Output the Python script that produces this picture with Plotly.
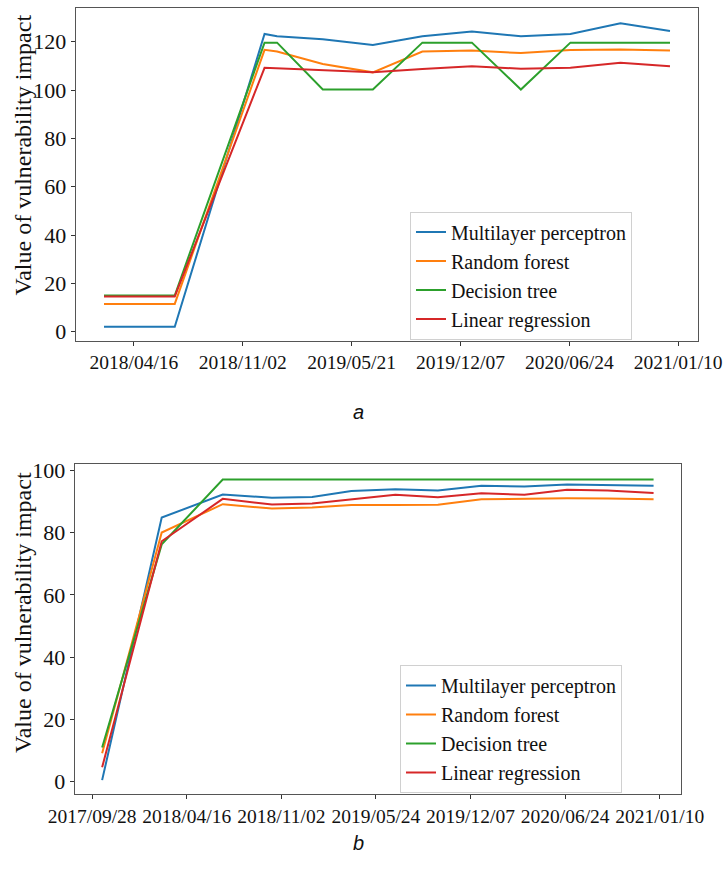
import plotly.graph_objects as go

models = ["Multilayer perceptron", "Random forest", "Decision tree", "Linear regression"]
colors = ["#1f77b4", "#ff7f0e", "#2ca02c", "#d62728"]

# ---- chart a ----
dates_a = ["2018-02-20", "2018-06-30", "2018-12-12", "2019-01-04", "2019-03-29", "2019-06-29",
           "2019-09-28", "2019-12-28", "2020-03-27", "2020-06-26", "2020-09-26", "2020-12-26"]
mlp_a = [2.1, 2.1, 123.2, 122.2, 121.0, 118.6, 122.2, 124.2, 122.2, 123.2, 127.6, 124.4]
rf_a = [11.5, 11.5, 116.6, 115.9, 110.8, 107.3, 115.9, 116.3, 115.3, 116.6, 116.8, 116.3]
dt_a = [15.0, 15.0, 119.6, 119.6, 100.2, 100.2, 119.6, 119.6, 100.2, 119.6, 119.6, 119.6]
lr_a = [14.6, 14.6, 109.2, 109.0, 108.3, 107.3, 108.7, 109.8, 108.8, 109.2, 111.3, 109.8]
tickvals_a = ["2018-04-16", "2018-11-02", "2019-05-21", "2019-12-07", "2020-06-24", "2021-01-10"]
ticktext_a = ["2018/04/16", "2018/11/02", "2019/05/21", "2019/12/07", "2020/06/24", "2021/01/10"]

# ---- chart b ----
dates_b = ["2017-10-19", "2018-02-22", "2018-07-01", "2018-10-13", "2019-01-06", "2019-03-30",
           "2019-07-01", "2019-09-29", "2019-12-30", "2020-03-30", "2020-06-28", "2020-09-22",
           "2020-12-28"]
mlp_b = [0.5, 84.8, 92.2, 91.2, 91.4, 93.3, 93.9, 93.5, 95.0, 94.8, 95.4, 95.3, 95.0]
rf_b = [9.1, 80.0, 89.1, 87.7, 88.0, 88.8, 88.8, 88.9, 90.7, 90.9, 91.0, 90.9, 90.7]
dt_b = [11.0, 76.2, 97.0, 97.0, 97.0, 97.0, 97.0, 97.0, 97.0, 97.0, 97.0, 97.0, 97.0]
lr_b = [4.6, 77.2, 90.8, 89.0, 89.3, 90.7, 92.1, 91.3, 92.6, 92.1, 93.7, 93.5, 92.7]
tickvals_b = ["2017-09-28", "2018-04-16", "2018-11-02", "2019-05-21", "2019-12-07", "2020-06-24", "2021-01-10"]
ticktext_b = ["2017/09/28", "2018/04/16", "2018/11/02", "2019/05/24", "2019/12/07", "2020/06/24", "2021/01/10"]

ylabel = "Value of vulnerability impact"
W, H = 723, 878
FONT = "Liberation Serif, Times New Roman, serif"
TXT = "#111111"

fig = go.Figure()
for name, col, ys in zip(models, colors, [mlp_a, rf_a, dt_a, lr_a]):
    fig.add_trace(go.Scatter(x=dates_a, y=ys, mode="lines", name=name,
                             line=dict(color=col, width=2), xaxis="x", yaxis="y",
                             legend="legend"))
for name, col, ys in zip(models, colors, [mlp_b, rf_b, dt_b, lr_b]):
    fig.add_trace(go.Scatter(x=dates_b, y=ys, mode="lines", name=name,
                             line=dict(color=col, width=2), xaxis="x2", yaxis="y2",
                             legend="legend2"))

def ax(size):
    return dict(showline=True, mirror=True, linecolor="#555555", linewidth=1.3,
                ticks="outside", ticklen=4, tickwidth=1, tickcolor="#333333",
                showgrid=False, zeroline=False, ticklabeloverflow="allow",
                automargin=False,
                tickfont=dict(family=FONT, size=size, color=TXT))

fig.update_layout(
    width=W, height=H,
    margin=dict(l=0, r=0, t=0, b=0),
    paper_bgcolor="white", plot_bgcolor="white",
    font=dict(family=FONT, color=TXT),
    xaxis=dict(domain=[75.7 / W, 698.3 / W], anchor="y", type="date",
               range=["2017-12-30", "2021-02-16"], tickangle=0,
               tickvals=tickvals_a, ticktext=ticktext_a, **ax(19.5)),
    yaxis=dict(domain=[1 - 340.7 / H, 1 - 8.3 / H], anchor="x",
               range=[-3.7, 133.8], tickvals=[0, 20, 40, 60, 80, 100, 120], **ax(22)),
    xaxis2=dict(domain=[74.7 / W, 681 / W], anchor="y2", type="date",
                range=["2017-08-22", "2021-02-24"], tickangle=0,
                tickvals=tickvals_b, ticktext=ticktext_b, **ax(19.5)),
    yaxis2=dict(domain=[1 - 794.3 / H, 1 - 464 / H], anchor="x2",
                range=[-4.05, 102.0], tickvals=[0, 20, 40, 60, 80, 100], **ax(22)),
    legend=dict(x=410 / W, y=1 - 339.5 / H, xanchor="left", yanchor="bottom",
                bgcolor="white", bordercolor="#d0d0d0", borderwidth=1,
                font=dict(family=FONT, size=20, color=TXT), tracegroupgap=0),
    legend2=dict(x=400 / W, y=1 - 793 / H, xanchor="left", yanchor="bottom",
                 bgcolor="white", bordercolor="#d0d0d0", borderwidth=1,
                 font=dict(family=FONT, size=20, color=TXT), tracegroupgap=0),
    annotations=[
        dict(text=ylabel, textangle=-90, x=22.5 / W, y=1 - 155 / H, xref="paper", yref="paper",
             xanchor="center", yanchor="middle", showarrow=False,
             font=dict(family=FONT, size=24, color=TXT)),
        dict(text=ylabel, textangle=-90, x=23 / W, y=1 - 613 / H, xref="paper", yref="paper",
             xanchor="center", yanchor="middle", showarrow=False,
             font=dict(family=FONT, size=24, color=TXT)),
        dict(text="<i>a</i>", x=358 / W, y=1 - 412 / H, xref="paper", yref="paper",
             xanchor="center", yanchor="middle", showarrow=False,
             font=dict(family="Liberation Sans, Arial, sans-serif", size=20, color=TXT)),
        dict(text="<i>b</i>", x=358 / W, y=1 - 843 / H, xref="paper", yref="paper",
             xanchor="center", yanchor="middle", showarrow=False,
             font=dict(family="Liberation Sans, Arial, sans-serif", size=20, color=TXT)),
    ],
)

fig.write_html("out.html")
